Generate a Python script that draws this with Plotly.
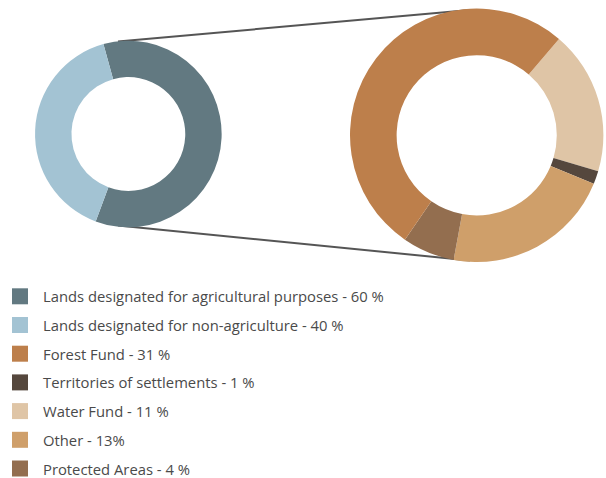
import plotly.graph_objects as go

W, H = 606, 478

# ---- data ----
main_labels = ["Lands designated for agricultural purposes", "Lands designated for non-agriculture"]
main_values = [60, 40]
main_colors = ["#627981", "#a3c3d3"]

sub_labels = ["Forest Fund", "Territories of settlements", "Water Fund", "Other", "Protected Areas"]
sub_values = [31, 1, 11, 13, 4]
sub_colors = ["#bd7f4b", "#55473d", "#dfc5a6", "#cf9f6a", "#936e4f"]
legend_texts = [
    "Lands designated for agricultural purposes - 60 %",
    "Lands designated for non-agriculture - 40 %",
    "Forest Fund - 31 %",
    "Territories of settlements - 1 %",
    "Water Fund - 11 %",
    "Other - 13%",
    "Protected Areas - 4 %",
]
# clockwise drawing order of the breakdown ring
sub_order = [2, 1, 3, 4, 0]


def px_x(x):
    return x / W


def px_y(y):
    return 1 - y / H


fig = go.Figure()

fig.add_trace(go.Pie(
    labels=main_labels, values=main_values,
    marker=dict(colors=main_colors, line=dict(width=0)),
    hole=0.61, sort=False, direction="clockwise", rotation=-15.5,
    textinfo="none", hoverinfo="label+value", showlegend=False,
    domain=dict(x=[px_x(35), px_x(221.7)], y=[px_y(227.3), px_y(40.7)]),
))

fig.add_trace(go.Pie(
    labels=[sub_labels[i] for i in sub_order],
    values=[sub_values[i] for i in sub_order],
    marker=dict(colors=[sub_colors[i] for i in sub_order], line=dict(width=0)),
    hole=0.632, sort=False, direction="clockwise", rotation=40.5,
    textinfo="none", hoverinfo="label+value", showlegend=False,
    domain=dict(x=[px_x(350), px_x(603.4)], y=[px_y(262), px_y(8.6)]),
))

shapes = [
    dict(type="line", xref="paper", yref="paper", layer="below",
         x0=px_x(118), y0=px_y(41.5), x1=px_x(470), y1=px_y(10),
         line=dict(color="#555555", width=2)),
    dict(type="line", xref="paper", yref="paper", layer="below",
         x0=px_x(118), y0=px_y(225.5), x1=px_x(470), y1=px_y(260.5),
         line=dict(color="#555555", width=2)),
]

annotations = []
all_colors = main_colors + sub_colors
y0, dy = 296.3, 28.7
for k, (txt, col) in enumerate(zip(legend_texts, all_colors)):
    yc = y0 + k * dy
    shapes.append(dict(type="rect", xref="paper", yref="paper",
                       x0=px_x(12), x1=px_x(28), y0=px_y(yc - 8), y1=px_y(yc + 8),
                       fillcolor=col, line=dict(width=0)))
    annotations.append(dict(xref="paper", yref="paper", x=px_x(41), y=px_y(yc),
                            xanchor="left", yanchor="middle", showarrow=False,
                            text=txt, font=dict(family="Open Sans", size=14.8, color="#4a4a4a")))

fig.update_layout(
    width=W, height=H,
    margin=dict(l=0, r=0, t=0, b=0),
    paper_bgcolor="white", plot_bgcolor="white",
    shapes=shapes, annotations=annotations,
    showlegend=False,
)

fig.write_html("out.html", config={"displayModeBar": False},
               post_script="document.body.style.margin='0px';")
